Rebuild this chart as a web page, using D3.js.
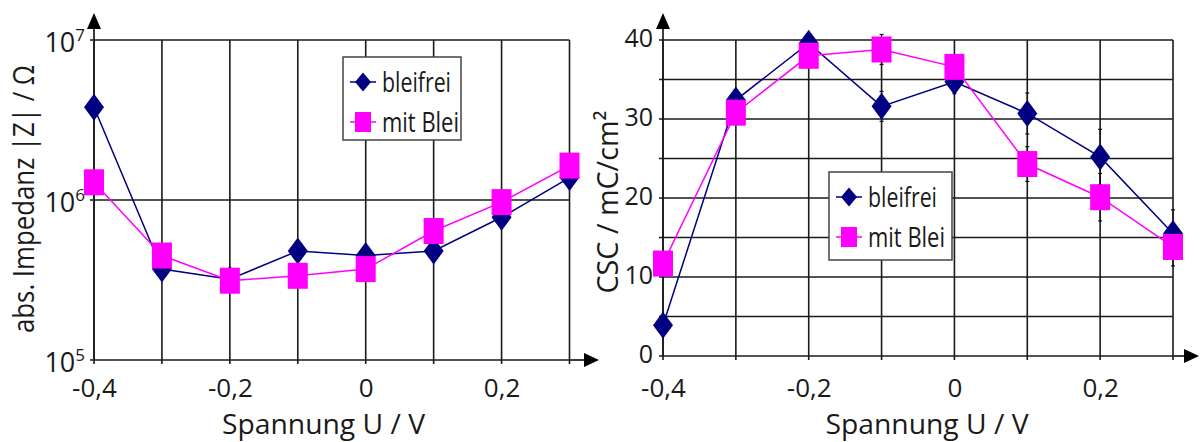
<!DOCTYPE html>
<html><head><meta charset="utf-8">
<script src="https://cdn.jsdelivr.net/npm/d3@7"></script>
<style>
body{margin:0;background:#fff}
svg{display:block}
text{font-family:"Open Sans","Noto Sans",sans-serif;fill:#1a1a1a}
</style>
</head><body>
<svg id="chart" width="1200" height="442"></svg>
<script>
// ---------- data ----------
const voltages = [-0.4, -0.3, -0.2, -0.1, 0, 0.1, 0.2, 0.3];
const xTickLabels = [-0.4, -0.2, 0, 0.2];
const seriesNames = ["bleifrei", "mit Blei"];

const impedanceBleifrei = [3.8e6, 3.7e5, 3.2e5, 4.8e5, 4.5e5, 4.8e5, 7.8e5, 1.38e6];
const impedanceMitBlei  = [1.29e6, 4.5e5, 3.13e5, 3.36e5, 3.7e5, 6.4e5, 9.7e5, 1.64e6];
const impedanceTicks = [1e5, 1e6, 1e7];

const cscBleifrei = [3.9, 32.4, 39.6, 31.6, 34.7, 30.7, 25.2, 15.5];
const cscMitBlei  = [11.7, 30.8, 38.0, 38.8, 36.6, 24.3, 20.1, 13.8];
const cscErrBleifrei = [0.5, 1.0, 1.0, 1.9, 1.5, 2.6, 3.5, 3.0];
const cscErrMitBlei  = [0.5, 1.0, 1.0, 1.9, 1.0, 2.2, 3.0, 2.4];
const cscGridTicks = [0, 5, 10, 15, 20, 25, 30, 35, 40];
const cscLabelTicks = [0, 10, 20, 30, 40];

const xTitle = "Spannung U / V";
const yTitleLeft = "abs. Impedanz |Z| / Ω";
const yTitleRight = "CSC / mC/cm²";

// ---------- styles ----------
const NAVY = "#000080", MAGENTA = "#FF00FF", GRID = "#1a1a1a";
const FONT = '"Open Sans","Noto Sans",sans-serif';
const svg = d3.select("#chart");
svg.append("rect").attr("width", 1200).attr("height", 442).attr("fill", "#fff");

const commaFmt = d => String(d).replace(".", ",");
const diamond = (w, h) => `M0,${-h/2}L${w/2},0L0,${h/2}L${-w/2},0Z`;

function drawPanel(p) {
  const g = svg.append("g");
  const x = p.x, y = p.y;
  const [x0, x1] = x.range(), [yb, yt] = y.range();

  // grid
  g.append("g").selectAll("line").data(voltages).join("line")
    .attr("x1", d => x(d)).attr("x2", d => x(d))
    .attr("y1", yt).attr("y2", yb + 4)
    .attr("stroke", GRID).attr("stroke-width", 1.6);
  g.append("g").selectAll("line").data(p.gridTicks).join("line")
    .attr("x1", x0 - 4).attr("x2", x1)
    .attr("y1", d => y(d)).attr("y2", d => y(d))
    .attr("stroke", GRID).attr("stroke-width", 1.6);

  // axes with arrows
  g.append("line").attr("x1", x0).attr("x2", x0).attr("y1", yb).attr("y2", 26)
    .attr("stroke", GRID).attr("stroke-width", 1.7);
  g.append("path").attr("d", `M${x0-7},${29}L${x0+7},${29}L${x0},${13}Z`).attr("fill", "#000");
  g.append("line").attr("x1", x1).attr("x2", p.arrowX - 12).attr("y1", yb).attr("y2", yb)
    .attr("stroke", GRID).attr("stroke-width", 1.7);
  g.append("path").attr("d", `M${p.arrowX-15},${yb-7}L${p.arrowX-15},${yb+7}L${p.arrowX},${yb}Z`).attr("fill", "#000");

  // x tick labels via d3 axis (baselines aligned at ~397 in both panels)
  const xa = g.append("g").attr("transform", `translate(0,${yb})`)
    .call(d3.axisBottom(x).tickValues(xTickLabels).tickSize(0).tickPadding(378.5 - yb).tickFormat(commaFmt));
  xa.select(".domain").remove();
  xa.selectAll("text").attr("font-size", 26).attr("fill", "#1a1a1a").attr("font-family", FONT);

  // titles
  g.append("text").attr("x", p.xTitleX).attr("y", 434).attr("text-anchor", "middle")
    .attr("font-size", 27).attr("textLength", 203).attr("lengthAdjust", "spacingAndGlyphs")
    .text(xTitle);
  g.append("text").attr("transform", `translate(${p.yTitleX},${p.yTitleY}) rotate(-90)`)
    .attr("text-anchor", "middle").attr("font-size", 30)
    .attr("textLength", p.yTitleLen).attr("lengthAdjust", "spacingAndGlyphs")
    .text(p.yTitle);

  // error bars
  if (p.err) {
    p.series.forEach(s => {
      if (!s.err) return;
      const eg = g.append("g").attr("stroke", "#111").attr("stroke-width", 1.2);
      s.values.forEach((v, i) => {
        const cx = x(voltages[i]), ya = y(v + s.err[i]), yb2 = y(v - s.err[i]);
        eg.append("line").attr("x1", cx).attr("x2", cx).attr("y1", ya).attr("y2", yb2);
        eg.append("line").attr("x1", cx - 2).attr("x2", cx + 2).attr("y1", ya).attr("y2", ya);
        eg.append("line").attr("x1", cx - 2).attr("x2", cx + 2).attr("y1", yb2).attr("y2", yb2);
      });
    });
  }

  // lines + markers
  p.series.forEach(s => {
    const line = d3.line().x((d, i) => x(voltages[i])).y(d => y(d));
    g.append("path").attr("d", line(s.values)).attr("fill", "none")
      .attr("stroke", s.color).attr("stroke-width", 1.5);
    const mg = g.append("g");
    s.values.forEach((v, i) => {
      const cx = x(voltages[i]), cy = y(v);
      if (s.shape === "diamond") {
        mg.append("path").attr("d", diamond(20, 27)).attr("transform", `translate(${cx},${cy})`).attr("fill", s.color);
      } else {
        mg.append("rect").attr("x", cx - 10).attr("y", cy - 13).attr("width", 20).attr("height", 26).attr("fill", s.color);
      }
    });
  });

  // legend
  const L = p.legend;
  const lg = g.append("g");
  lg.append("rect").attr("x", L.x).attr("y", L.y).attr("width", L.w).attr("height", L.h)
    .attr("fill", "#fff").attr("stroke", "#444").attr("stroke-width", 1.5);
  p.series.forEach((s, i) => {
    const cy = L.y + 25 + i * 40;
    const sx = L.x + 20;
    lg.append("line").attr("x1", sx - 13).attr("x2", sx + 13).attr("y1", cy).attr("y2", cy)
      .attr("stroke", s.color).attr("stroke-width", 1.5);
    if (s.shape === "diamond") {
      lg.append("path").attr("d", diamond(16, 19)).attr("transform", `translate(${sx},${cy})`).attr("fill", s.color);
    } else {
      lg.append("rect").attr("x", sx - 8).attr("y", cy - 10).attr("width", 16).attr("height", 20).attr("fill", s.color);
    }
    lg.append("text").attr("x", sx + 19).attr("y", cy).attr("dy", "0.36em")
      .attr("font-size", 28).attr("textLength", i === 0 ? 69 : 77).attr("lengthAdjust", "spacingAndGlyphs")
      .text(s.name);
  });
  return g;
}

// ---------- left panel: impedance ----------
const xL = d3.scaleLinear().domain([-0.4, 0.3]).range([94, 569.5]);
const yL = d3.scaleLog().domain([1e5, 1e7]).range([360, 40]);
const gL = drawPanel({
  x: xL, y: yL, gridTicks: impedanceTicks, arrowX: 599,
  xTitleX: 323.5, yTitle: yTitleLeft, yTitleX: 34, yTitleY: 199, yTitleLen: 268,
  legend: {x: 343, y: 57, w: 118, h: 83},
  series: [
    {name: seriesNames[0], values: impedanceBleifrei, color: NAVY, shape: "diamond"},
    {name: seriesNames[1], values: impedanceMitBlei, color: MAGENTA, shape: "square"}
  ]
});
// log tick labels 10^n
const lt = gL.append("g").selectAll("text").data(impedanceTicks).join("text")
  .attr("x", 85).attr("y", d => yL(d) + 12).attr("text-anchor", "end").attr("font-size", 27);
lt.append("tspan").text("10");
lt.append("tspan").attr("dy", -11).attr("font-size", 17).text(d => Math.round(Math.log10(d)));

// ---------- right panel: CSC ----------
const xR = d3.scaleLinear().domain([-0.4, 0.3]).range([663, 1173]);
const yR = d3.scaleLinear().domain([0, 40]).range([356, 40]);
const gR = drawPanel({
  x: xR, y: yR, gridTicks: cscGridTicks, arrowX: 1199, err: true,
  xTitleX: 927, yTitle: yTitleRight, yTitleX: 618, yTitleY: 202, yTitleLen: 183,
  legend: {x: 829, y: 172, w: 123, h: 88},
  series: [
    {name: seriesNames[0], values: cscBleifrei, err: cscErrBleifrei, color: NAVY, shape: "diamond"},
    {name: seriesNames[1], values: cscMitBlei, err: cscErrMitBlei, color: MAGENTA, shape: "square"}
  ]
});
const ya = gR.append("g").attr("transform", "translate(653,0)")
  .call(d3.axisLeft(yR).tickValues(cscLabelTicks).tickSize(0).tickPadding(0));
ya.select(".domain").remove();
ya.selectAll("text").attr("font-size", 25).attr("dy", "0.25em").attr("fill", "#1a1a1a").attr("font-family", FONT);
</script>
</body></html>
